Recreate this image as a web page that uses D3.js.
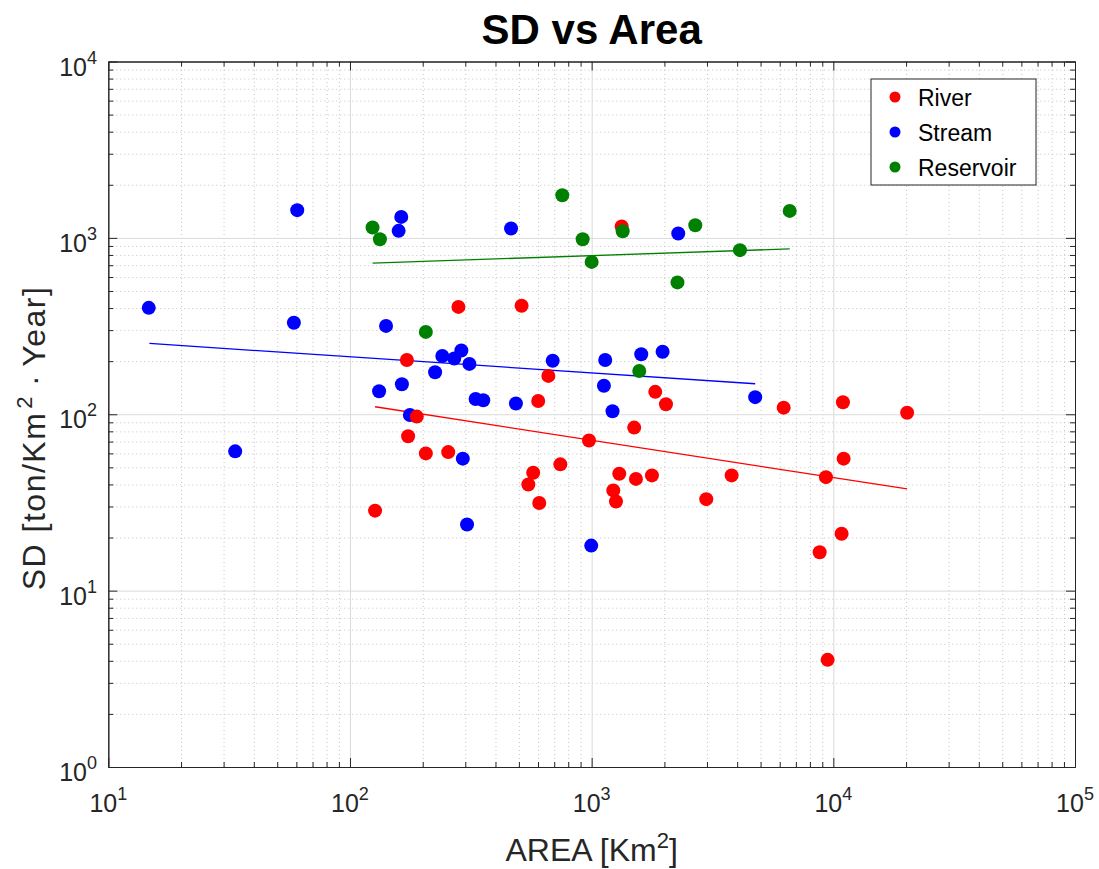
<!DOCTYPE html>
<html>
<head>
<meta charset="utf-8">
<script src="https://cdn.jsdelivr.net/npm/d3@7"></script>
<style>
  html, body { margin: 0; padding: 0; background: #fff; }
  svg { display: block; }
  text { font-family: "Liberation Sans", Arial, Helvetica, sans-serif; }
</style>
</head>
<body>
<svg id="chart" width="1099" height="869"></svg>
<script>
// Basin area (km²) and specific sediment yield (ton/km²·year)
const riverArea = [127, 172, 174, 189, 206, 255, 281, 513, 662, 601, 573, 547, 607, 742, 975, 1301, 1229, 1261, 1525, 1776, 1500, 1833, 2030, 1331, 2980, 3795, 6230, 10960, 20200, 11030, 9320, 10820, 8780, 9470];
const riverSD   = [28.4, 203, 75, 97, 60, 61, 406, 412, 165, 119, 46.6, 40, 31.4, 52, 71, 46, 37, 32, 43, 45, 84, 134, 114, 1160, 33, 45, 109, 117, 102, 56, 44, 21, 16.5, 4.05];

const streamArea = [14.7, 60.5, 58.6, 33.5, 163, 159, 464, 2282, 141, 241, 270, 289, 312, 225, 164, 132, 331, 356, 486, 690, 1138, 1604, 1966, 1124, 1220, 4750, 177, 293, 305, 996];
const streamSD   = [401, 1436, 330, 61.6, 1315, 1096, 1130, 1059, 317, 214, 207, 230, 193, 173, 148, 135, 122, 120, 115, 201, 203, 219, 226, 145, 104, 125, 99, 56, 23.7, 18];

const reservoirArea = [124, 133, 756, 918, 1000, 1344, 2684, 2265, 206, 1574, 6600, 4108];
const reservoirSD   = [1145, 983, 1746, 983, 731, 1091, 1180, 559, 293, 176, 1422, 852];

// Power-law trend lines (end points in data units)
const riverFitArea = [127, 20200];
const riverFitSD   = [110.3, 37.7];
const streamFitArea = [14.8, 4750];
const streamFitSD   = [252, 148.9];
const reservoirFitArea = [124, 6600];
const reservoirFitSD   = [719, 866.5];

const seriesNames = ["River", "Stream", "Reservoir"];
const seriesColors = ["#ff0000", "#0000ff", "#008000"];

const xMajor = [1e1, 1e2, 1e3, 1e4, 1e5];
const yMajor = [1e0, 1e1, 1e2, 1e3, 1e4];

const plotLeft = 108.3, plotRight = 1075, plotTop = 61.5, plotBottom = 767;
const svg = d3.select("#chart");

const x = d3.scaleLog().domain([1e1, 1e5]).range([plotLeft, plotRight]);
const y = d3.scaleLog().domain([1e0, 1e4]).range([plotBottom, plotTop]);

const isMajor = v => Math.abs(Math.log10(v) - Math.round(Math.log10(v))) < 1e-9;
const xMinor = x.ticks().filter(v => !isMajor(v));
const yMinor = y.ticks().filter(v => !isMajor(v));

const plotW = plotRight - plotLeft, plotH = plotBottom - plotTop;

// Grid: minor dotted, major solid
const grid = svg.append("g");
grid.append("g").attr("transform", `translate(0,${plotBottom})`)
  .call(d3.axisBottom(x).tickValues(xMinor).tickSize(-plotH).tickFormat(""))
  .call(g => g.select(".domain").remove())
  .call(g => g.selectAll("line").attr("stroke", "#c4c4c4").attr("stroke-dasharray", "1,3"));
grid.append("g").attr("transform", `translate(${plotLeft},0)`)
  .call(d3.axisLeft(y).tickValues(yMinor).tickSize(-plotW).tickFormat(""))
  .call(g => g.select(".domain").remove())
  .call(g => g.selectAll("line").attr("stroke", "#c4c4c4").attr("stroke-dasharray", "1,3"));
grid.append("g").attr("transform", `translate(0,${plotBottom})`)
  .call(d3.axisBottom(x).tickValues(xMajor).tickSize(-plotH).tickFormat(""))
  .call(g => g.select(".domain").remove())
  .call(g => g.selectAll("line").attr("stroke", "#dadada"));
grid.append("g").attr("transform", `translate(${plotLeft},0)`)
  .call(d3.axisLeft(y).tickValues(yMajor).tickSize(-plotW).tickFormat(""))
  .call(g => g.select(".domain").remove())
  .call(g => g.selectAll("line").attr("stroke", "#dadada"));

// Trend lines
const fits = [
  [riverFitArea, riverFitSD],
  [streamFitArea, streamFitSD],
  [reservoirFitArea, reservoirFitSD]
];
const line = d3.line().x(d => x(d[0])).y(d => y(d[1]));
fits.forEach(([a, s], i) => {
  svg.append("path")
    .attr("d", line(a.map((v, k) => [v, s[k]])))
    .attr("fill", "none")
    .attr("stroke", seriesColors[i])
    .attr("stroke-width", 1.3);
});

// Scatter points (stream, river, reservoir stacking)
const series = [
  [riverArea, riverSD],
  [streamArea, streamSD],
  [reservoirArea, reservoirSD]
];
[1, 0, 2].forEach(i => {
  const [a, s] = series[i];
  svg.append("g").selectAll("circle")
    .data(a.map((v, k) => [v, s[k]]))
    .join("circle")
    .attr("cx", d => x(d[0]))
    .attr("cy", d => y(d[1]))
    .attr("r", 7)
    .attr("fill", seriesColors[i]);
});

// Axes box with inward ticks on all sides
const axisColor = "#262626";
function styleAxis(g) {
  g.select(".domain").attr("stroke", axisColor);
  g.selectAll("line").attr("stroke", axisColor);
}
const tickAxes = [
  [d3.axisBottom, `translate(0,${plotBottom})`, x, xMajor, xMinor],
  [d3.axisTop, `translate(0,${plotTop})`, x, xMajor, xMinor],
  [d3.axisLeft, `translate(${plotLeft},0)`, y, yMajor, yMinor],
  [d3.axisRight, `translate(${plotRight},0)`, y, yMajor, yMinor]
];
tickAxes.forEach(([mk, tr, sc, maj, min]) => {
  svg.append("g").attr("transform", tr)
    .call(mk(sc).tickValues(min).tickSizeInner(-5).tickSizeOuter(0).tickFormat(""))
    .call(styleAxis);
  svg.append("g").attr("transform", tr)
    .call(mk(sc).tickValues(maj).tickSizeInner(-9).tickSizeOuter(0).tickFormat(""))
    .call(styleAxis);
});

// Tick labels: 10^n
const expOf = v => Math.round(Math.log10(v));
const xl = svg.append("g").selectAll("text").data(xMajor).join("text")
  .attr("x", d => x(d)).attr("y", plotBottom + 45)
  .attr("text-anchor", "middle").attr("fill", axisColor).attr("font-size", 25);
xl.append("tspan").text("10");
xl.append("tspan").attr("dy", -12).attr("font-size", 18).text(d => expOf(d));

const yl = svg.append("g").selectAll("text").data(yMajor).join("text")
  .attr("x", 97).attr("y", d => y(d) + 14)
  .attr("text-anchor", "end").attr("fill", axisColor).attr("font-size", 25);
yl.append("tspan").text("10");
yl.append("tspan").attr("dy", -12).attr("font-size", 18).text(d => expOf(d));

// Axis titles
const xt = svg.append("text")
  .attr("x", (plotLeft + plotRight) / 2).attr("y", 861)
  .attr("text-anchor", "middle").attr("fill", axisColor).attr("font-size", 32);
xt.append("tspan").text("AREA [Km");
xt.append("tspan").attr("dy", -13).attr("font-size", 22).text("2");
xt.append("tspan").attr("dy", 13).text("]");

const yt = svg.append("text")
  .attr("transform", `translate(45,438) rotate(-90)`)
  .attr("text-anchor", "middle").attr("fill", axisColor).attr("font-size", 32)
  .attr("letter-spacing", 1.5);
yt.append("tspan").text("SD [ton/Km");
yt.append("tspan").attr("dx", 3).attr("dy", -13).attr("font-size", 22).text("2");
yt.append("tspan").attr("dx", 9).attr("dy", 13).text("\u00b7");
yt.append("tspan").attr("dx", 7).text("Year]");

// Title
svg.append("text")
  .attr("x", (plotLeft + plotRight) / 2).attr("y", 44)
  .attr("text-anchor", "middle").attr("font-size", 42).attr("font-weight", "bold")
  .attr("fill", "#000").text("SD vs Area");

// Legend
const lg = svg.append("g");
lg.append("rect").attr("x", 871).attr("y", 79).attr("width", 165).attr("height", 106)
  .attr("fill", "#fff").attr("stroke", axisColor).attr("stroke-width", 1);
const entries = lg.selectAll("g.entry").data(seriesNames).join("g")
  .attr("transform", (d, i) => `translate(0,${97 + i * 35})`);
entries.append("circle").attr("cx", 895).attr("cy", 0).attr("r", 5.5)
  .attr("fill", (d, i) => seriesColors[i]);
entries.append("text").attr("x", 918).attr("y", 8.5).attr("font-size", 23)
  .attr("fill", "#000").text(d => d);
</script>
</body>
</html>
